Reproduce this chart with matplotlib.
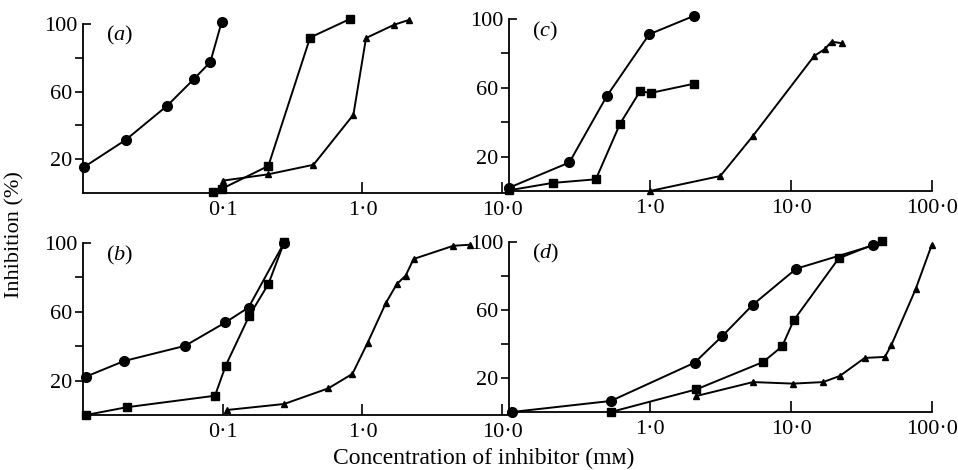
import matplotlib
matplotlib.use('Agg')
import matplotlib.pyplot as plt
from matplotlib.ticker import FixedLocator, FixedFormatter, NullLocator

plt.rcParams['font.family'] = ['Liberation Serif', 'DejaVu Serif']
plt.rcParams['mathtext.fontset'] = 'custom'
plt.rcParams['mathtext.rm'] = 'Liberation Serif'
plt.rcParams['mathtext.it'] = 'Liberation Serif:italic'

# ---------------- data (concentration mM, inhibition %) ----------------
# panel (a)
a_circ_x = [0.0101, 0.0202, 0.0401, 0.0623, 0.0815, 0.0984]
a_circ_y = [15.2, 31.4, 51.7, 67.5, 77.5, 101.4]
a_sq_x = [0.0857, 0.098, 0.212, 0.422, 0.816]
a_sq_y = [0.4, 2.4, 16.0, 92.0, 103.0]
a_tri_x = [0.1, 0.21, 0.446, 0.861, 1.06, 1.69, 2.17]
a_tri_y = [7.3, 11.0, 16.7, 46.3, 91.7, 99.6, 102.5]

# panel (b)
b_circ_x = [0.0105, 0.0197, 0.0537, 0.1044, 0.153, 0.275]
b_circ_y = [22.3, 31.4, 40.2, 53.8, 62.5, 100.2]
b_sq_x = [0.0105, 0.0205, 0.088, 0.105, 0.155, 0.212, 0.275]
b_sq_y = [0.0, 4.5, 11.2, 28.7, 57.8, 76.1, 100.3]
b_tri_x = [0.107, 0.275, 0.57, 0.847, 1.09, 1.47, 1.76, 2.04, 2.32, 4.48, 5.9]
b_tri_y = [2.9, 6.4, 15.5, 23.9, 42.1, 65.1, 76.1, 81.1, 90.7, 98.4, 99.0]

# panel (c)
c_circ_x = [0.1, 0.268, 0.494, 0.987, 2.06]
c_circ_y = [1.9, 16.6, 55.2, 91.1, 101.9]
c_sq_x = [0.1, 0.204, 0.413, 0.614, 0.85, 1.01, 2.06]
c_sq_y = [0.4, 4.7, 6.8, 39.2, 58.0, 57.0, 62.4]
c_tri_x = [1.0, 3.15, 5.37, 14.6, 17.3, 19.4, 23.1]
c_tri_y = [0.0, 8.7, 32.0, 78.5, 82.4, 86.8, 85.9]

# panel (d)
d_circ_x = [0.105, 0.528, 2.07, 3.24, 5.38, 10.9, 38.3]
d_circ_y = [0.0, 6.5, 29.0, 44.5, 63.2, 84.3, 98.0]
d_sq_x = [0.528, 2.13, 6.34, 8.65, 10.45, 21.8, 43.9]
d_sq_y = [0.0, 13.3, 29.4, 38.6, 53.9, 90.4, 100.4]
d_tri_x = [2.13, 5.38, 10.35, 16.9, 22.2, 33.3, 46.3, 51.4, 76.5, 99.3]
d_tri_y = [9.4, 17.6, 16.7, 17.6, 21.2, 31.8, 32.4, 39.2, 72.2, 98.0]

left_ticks = [0.1, 1.0, 10.0]
left_labels = ['0·1', '1·0', '10·0']
right_ticks = [1.0, 10.0, 100.0]
right_labels = ['1·0', '10·0', '100·0']
panel_labels = ['a', 'b', 'c', 'd']

# ---------------- figure ----------------
W, H = 958, 470
fig = plt.figure(figsize=(W / 100, H / 100), dpi=100)


def box(l, r, t, b):
    return [l / W, 1 - b / H, (r - l) / W, (b - t) / H]


axA = fig.add_axes(box(83, 508, 24, 193))
axB = fig.add_axes(box(83, 508, 243, 415))
axC = fig.add_axes(box(509, 932, 19, 191))
axD = fig.add_axes(box(509, 932, 242, 412))

panels = [
    (axA, (a_circ_x, a_circ_y), (a_sq_x, a_sq_y), (a_tri_x, a_tri_y), 'left'),
    (axB, (b_circ_x, b_circ_y), (b_sq_x, b_sq_y), (b_tri_x, b_tri_y), 'left'),
    (axC, (c_circ_x, c_circ_y), (c_sq_x, c_sq_y), (c_tri_x, c_tri_y), 'right'),
    (axD, (d_circ_x, d_circ_y), (d_sq_x, d_sq_y), (d_tri_x, d_tri_y), 'right'),
]

FS = 16
lw = 1.4
for (ax, circ, sq, tri, side), lab in zip(panels, panel_labels):
    ax.set_facecolor('none')
    ax.plot(circ[0], circ[1], '-o', color='black', lw=lw, ms=7, clip_on=False, zorder=3)
    ax.plot(sq[0], sq[1], '-s', color='black', lw=lw, ms=6, clip_on=False, zorder=3)
    ax.plot(tri[0], tri[1], '-^', color='black', lw=lw, ms=5, clip_on=False, zorder=3)
    ax.set_xscale('log')
    if side == 'left':
        ax.set_xlim(0.01, 11.0)
        ax.xaxis.set_major_locator(FixedLocator(left_ticks))
        ax.xaxis.set_major_formatter(FixedFormatter(left_labels))
    else:
        ax.set_xlim(0.1, 100.0)
        ax.xaxis.set_major_locator(FixedLocator(right_ticks))
        ax.xaxis.set_major_formatter(FixedFormatter(right_labels))
    ax.xaxis.set_minor_locator(NullLocator())
    ax.set_ylim(0, 100)
    ax.yaxis.set_major_locator(FixedLocator([20, 40, 60, 80]))
    ax.yaxis.set_major_formatter(FixedFormatter(['20', '', '60', '']))
    ax.yaxis.set_minor_locator(FixedLocator([100]))
    ax.yaxis.set_minor_formatter(FixedFormatter(['100']))
    for s in ['top', 'right']:
        ax.spines[s].set_visible(False)
    for s in ['left', 'bottom']:
        ax.spines[s].set_linewidth(1.3)
    ax.tick_params(axis='y', which='major', direction='out', length=6, width=1.2,
                   pad=2, labelsize=FS)
    ax.tick_params(axis='y', which='minor', direction='in', length=6, width=1.2,
                   pad=4, labelsize=FS)
    ax.tick_params(axis='x', which='major', direction='in', length=8, width=1.2,
                   pad=6, labelsize=FS)
    ax.text(0.055, 0.93, '($\\it{' + lab + '}$)', transform=ax.transAxes,
            fontsize=FS, va='center', ha='left')

fig.text(15 / W, 1 - 235 / H, 'Inhibition (%)', rotation=90, ha='center',
         va='center', fontsize=FS)
fig.text(484 / W, 1 - 458 / H, 'Concentration of inhibitor (mᴍ)', ha='center',
         va='center', fontsize=17)

fig.savefig('out.png', dpi=100)
